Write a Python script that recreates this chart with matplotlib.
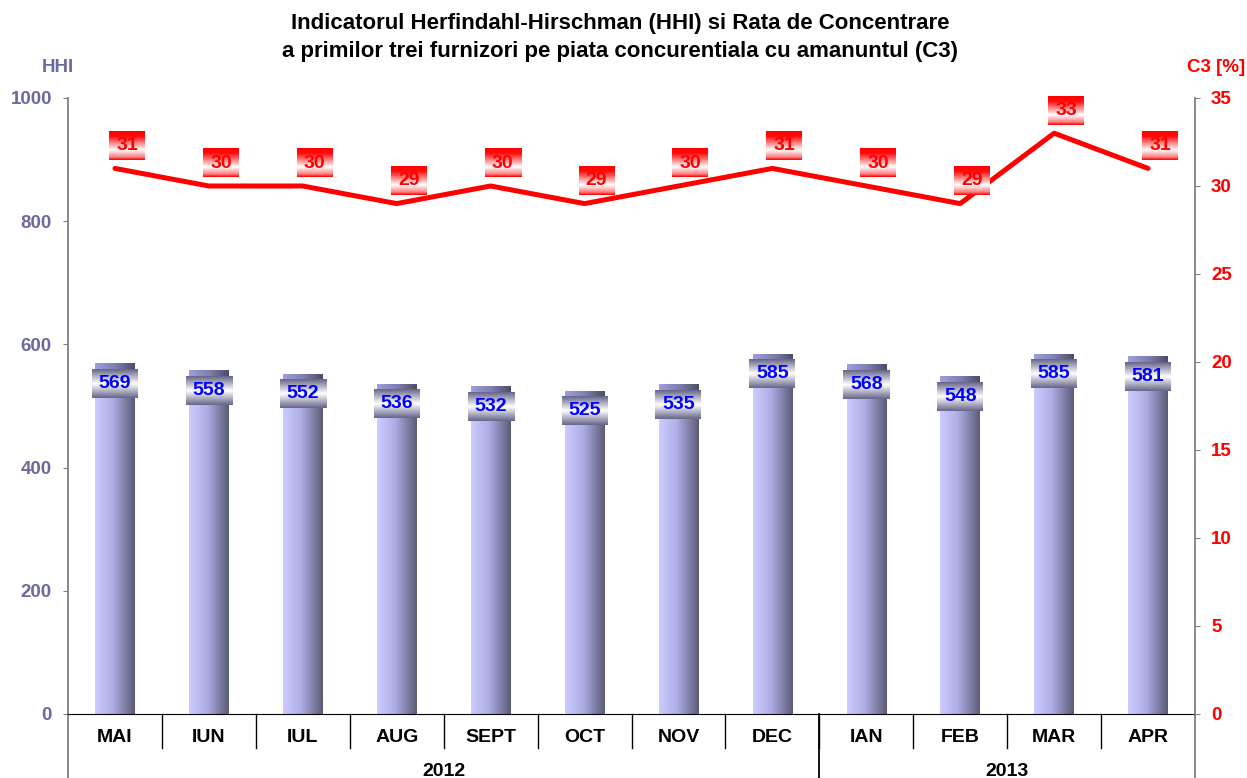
import numpy as np
import matplotlib.pyplot as plt
import matplotlib.transforms as mtransforms

plt.rcParams['font.family'] = ['Liberation Sans', 'DejaVu Sans']
plt.rcParams['font.weight'] = 'bold'

# data
months = ['MAI', 'IUN', 'IUL', 'AUG', 'SEPT', 'OCT', 'NOV', 'DEC', 'IAN', 'FEB', 'MAR', 'APR']
years = ['2012', '2013']
year_counts = [8, 4]
hhi = [569, 558, 552, 536, 532, 525, 535, 585, 568, 548, 585, 581]
c3 = [31, 30, 30, 29, 30, 29, 30, 31, 30, 29, 33, 31]

SLATE = '#6a6a9e'
GRAY = '#808080'

fig = plt.figure(figsize=(12.47, 7.78), dpi=100)
ax = fig.add_axes([68 / 1247, 1 - 714 / 778, 1127 / 1247, 616 / 778])
ax2 = ax.twinx()

x = np.arange(len(months))
ax.set_xlim(-0.5, len(months) - 0.5)
ax.set_ylim(0, 1000)
ax2.set_ylim(0, 35)


def grad(stops, n=64, horizontal=True):
    pos = [s[0] for s in stops]
    cols = np.array([s[1] for s in stops])
    t = np.linspace(0, 1, n)
    rgb = np.stack([np.interp(t, pos, cols[:, k]) for k in range(3)], axis=-1)
    if horizontal:
        return rgb[np.newaxis, :, :]
    return rgb[:, np.newaxis, :]


def px_box(axis, xd, yd, dx, dy, w, h):
    # box of w x h pixels centred dx, dy pixels away from a data point
    cx, cy = axis.transData.transform((xd, yd))
    cx += dx
    cy += dy
    inv = axis.transData.inverted()
    x0, y0 = inv.transform((cx - w / 2, cy - h / 2))
    x1, y1 = inv.transform((cx + w / 2, cy + h / 2))
    return x0, x1, y0, y1


bar_grad = grad([(0, (0.80, 0.80, 1.0)), (0.45, (0.68, 0.68, 0.90)), (1, (0.36, 0.36, 0.47))])
cap_grad = grad([(0, (0.62, 0.62, 0.86)), (0.5, (0.50, 0.50, 0.70)), (1, (0.30, 0.30, 0.40))])
bw = 0.42
bars = ax.bar(x, hhi, width=bw, color='none', edgecolor='none', zorder=2)
for xi, v, b in zip(x, hhi, bars):
    im = ax.imshow(bar_grad, extent=(xi - bw / 2, xi + bw / 2, 0, v), aspect='auto',
                   origin='lower', zorder=2)
    im.set_clip_path(b)
    cap = 6 * 1000 / 616
    ax.imshow(cap_grad, extent=(xi - bw / 2, xi + bw / 2, v - cap, v), aspect='auto',
              origin='lower', zorder=2)

# restore limits after imshow
ax.set_xlim(-0.5, len(months) - 0.5)
ax.set_ylim(0, 1000)
ax2.set_ylim(0, 35)

# bar value labels
blue_box = grad([(0, (0.40, 0.40, 0.54)), (0.5, (1, 1, 1)), (1, (0.40, 0.40, 0.54))],
                horizontal=False)
for xi, v in zip(x, hhi):
    x0, x1, y0, y1 = px_box(ax, xi, v, 0, -20, 46, 29)
    ax.imshow(blue_box, extent=(x0, x1, y0, y1), aspect='auto', origin='lower', zorder=4)
    ax.text(xi, (y0 + y1) / 2, str(v), ha='center', va='center', color='#0000ff',
            fontsize=14, fontweight='bold', zorder=5)

# C3 line
ax2.plot(x, c3, color='#ff0000', lw=3.6, solid_capstyle='round', zorder=3)
red_box = grad([(0, (1, 0, 0)), (0.1, (1, 0.5, 0.5)), (0.35, (1, 1, 1)), (0.82, (1, 0.05, 0.05)),
                (1, (1, 0, 0))], horizontal=False)
for xi, v in zip(x, c3):
    x0, x1, y0, y1 = px_box(ax2, xi, v, 12, 23, 36, 29)
    box = ax2.imshow(red_box, extent=(x0, x1, y0, y1), aspect='auto', origin='lower', zorder=4)
    box.set_clip_on(False)
    ax2.text((x0 + x1) / 2, (y0 + y1) / 2, str(v), ha='center', va='center', color='#ff0000',
             fontsize=14, fontweight='bold', zorder=5)
ax2.set_xlim(-0.5, len(months) - 0.5)
ax2.set_ylim(0, 35)

# axes styling
ax.set_yticks(np.arange(0, 1001, 200))
ax2.set_yticks(np.arange(0, 36, 5))
ax.tick_params(axis='y', direction='out', length=3.6, color=GRAY, labelcolor=SLATE,
               labelsize=13.5, pad=8)
ax2.tick_params(axis='y', direction='out', length=3.6, color=GRAY, labelcolor='#ff0000',
                labelsize=13.5, pad=8)
ax.set_xticks(x)
ax.set_xticklabels(months, fontsize=14, fontweight='bold')
ax.tick_params(axis='x', length=0, pad=11)
for a in (ax, ax2):
    a.spines['top'].set_visible(False)
    a.spines['left'].set_color(GRAY)
    a.spines['right'].set_color(GRAY)
    a.spines['bottom'].set_color('black')
    a.spines['left'].set_linewidth(1.3)
    a.spines['right'].set_linewidth(1.3)
ax2.spines['bottom'].set_visible(False)
ax.spines['right'].set_visible(False)
ax2.spines['left'].set_visible(False)

# category separators and year groups
trans = mtransforms.blended_transform_factory(ax.transData, ax.transAxes)
for b in np.arange(0.5, len(months) - 1, 1):
    ax.plot([b, b], [0, -0.055], color='black', lw=1, transform=trans, clip_on=False)
edges = np.concatenate([[0], np.cumsum(year_counts)]) - 0.5
for e in edges:
    ax.plot([e, e], [0, -0.12], color='black' if 0 < e < len(months) - 1 else GRAY,
            lw=1.3, transform=trans, clip_on=False)
for yr, a0, a1 in zip(years, edges[:-1], edges[1:]):
    ax.text((a0 + a1) / 2, -0.093, yr, transform=trans, ha='center', va='center',
            fontsize=14, fontweight='bold')

# titles
fig.text(0.497, 1 - 24 / 778, 'Indicatorul Herfindahl-Hirschman (HHI) si Rata de Concentrare',
         ha='center', va='center', fontsize=16, fontweight='bold')
fig.text(0.497, 1 - 52 / 778, 'a primilor trei furnizori pe piata concurentiala cu amanuntul (C3)',
         ha='center', va='center', fontsize=16, fontweight='bold')
fig.text(58 / 1247, 1 - 68 / 778, 'HHI', ha='center', va='center', fontsize=13.5,
         fontweight='bold', color=SLATE)
fig.text(1216 / 1247, 1 - 68 / 778, 'C3 [%]', ha='center', va='center', fontsize=13.5,
         fontweight='bold', color='#ff0000')

fig.savefig('out.png', dpi=100)
